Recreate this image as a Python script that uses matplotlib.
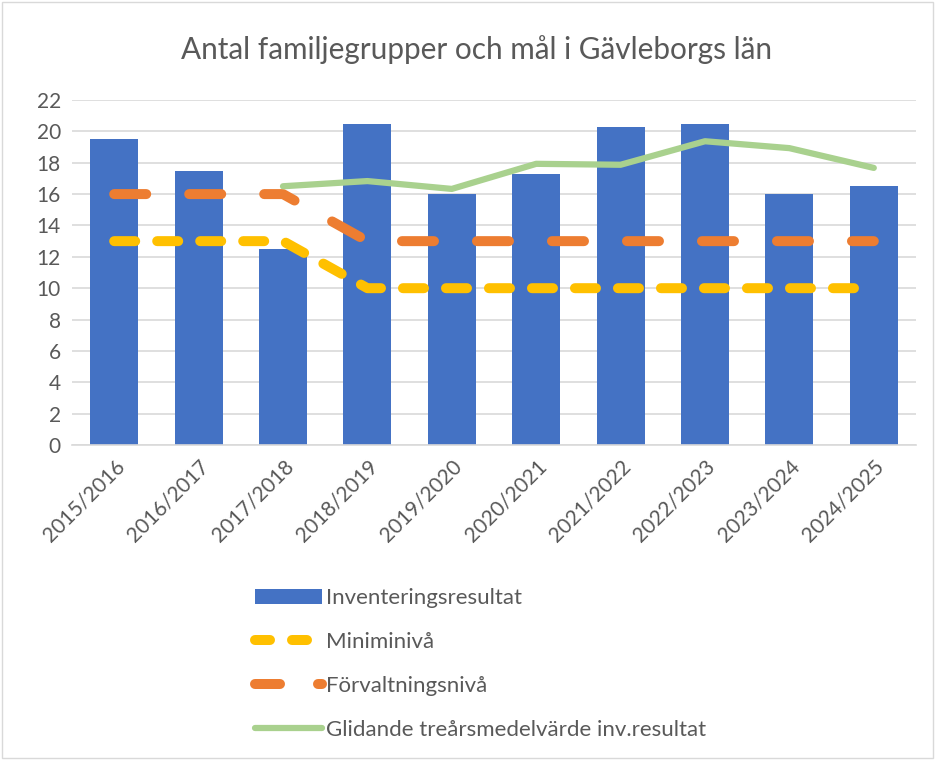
import matplotlib
matplotlib.use('agg')
import matplotlib.pyplot as plt
from matplotlib.lines import Line2D
from matplotlib.patches import Patch, Rectangle
import numpy as np

plt.rcParams['font.family'] = ['Lato', 'DejaVu Sans']

# Data
seasons = ['2015/2016', '2016/2017', '2017/2018', '2018/2019', '2019/2020',
           '2020/2021', '2021/2022', '2022/2023', '2023/2024', '2024/2025']
inventering = [19.5, 17.5, 12.5, 20.5, 16.0, 17.3, 20.3, 20.5, 16.0, 16.5]
miniminiva = [13, 13, 13, 10, 10, 10, 10, 10, 10, 10]
forvaltning = [16, 16, 16, 13, 13, 13, 13, 13, 13, 13]
glidande = [np.nan, np.nan, 16.5, 16.83, 16.33, 17.93, 17.87, 19.37, 18.93, 17.67]

c_blue = '#4472C4'
c_orange = '#ED7D31'
c_yellow = '#FFC000'
c_green = '#A9D18E'
c_text = '#595959'

fig = plt.figure(figsize=(9.36, 7.6), dpi=100)
ax = fig.add_axes([72/936, 1-445/760, 844/936, 345/760])

x = np.arange(len(seasons))
ax.bar(x, inventering, width=0.57, color=c_blue, zorder=2)
ax.plot(x, miniminiva, color=c_yellow, lw=7.2, dashes=(2.1, 2.2),
        dash_capstyle='round', zorder=3)
ax.plot(x, forvaltning, color=c_orange, lw=7.2, dashes=(3.2, 4.3),
        dash_capstyle='round', zorder=3)
ax.plot(x, glidande, color=c_green, lw=4.5, solid_capstyle='round', zorder=4)

ax.set_xlim(-0.5, len(seasons) - 0.5)
ax.set_ylim(0, 22)
ax.set_yticks(range(0, 23, 2))
ax.set_xticks(x)
ax.set_xticklabels(seasons, rotation=45, ha='right', rotation_mode='anchor')
ax.tick_params(axis='both', length=0, labelsize=15, colors=c_text, pad=8)
ax.grid(axis='y', color='#D9D9D9', lw=1.2, zorder=0)
ax.set_axisbelow(True)
for s in ['top', 'right', 'left']:
    ax.spines[s].set_visible(False)
ax.spines['bottom'].set_color('#D9D9D9')
ax.spines['bottom'].set_linewidth(1.2)

fig.text(477/936, 1-50/760, 'Antal familjegrupper och mål i Gävleborgs län',
         ha='center', va='center', fontsize=21.4, color=c_text)

handles = [
    Patch(facecolor=c_blue),
    Line2D([], [], color=c_yellow, lw=7.2, dashes=(1.5, 2.2), dash_capstyle='round'),
    Line2D([], [], color=c_orange, lw=7.2, dashes=(2.5, 3.8), dash_capstyle='round'),
    Line2D([], [], color=c_green, lw=4.5, solid_capstyle='round'),
]
labels = ['Inventeringsresultat', 'Miniminivå', 'Förvaltningsnivå',
          'Glidande treårsmedelvärde inv.resultat']
leg = fig.legend(handles, labels, loc='upper left',
                 bbox_to_anchor=(244/936, 1-577/760), frameon=False,
                 fontsize=16, handlelength=3.0, handleheight=0.7,
                 handletextpad=0.2, labelspacing=1.08, borderpad=0)
for t in leg.get_texts():
    t.set_color(c_text)

fig.patches.append(Rectangle((0.002, 0.002), 0.995, 0.995, transform=fig.transFigure,
                             fill=False, edgecolor='#D9D9D9', lw=1))

fig.savefig('out.png', dpi=100)
